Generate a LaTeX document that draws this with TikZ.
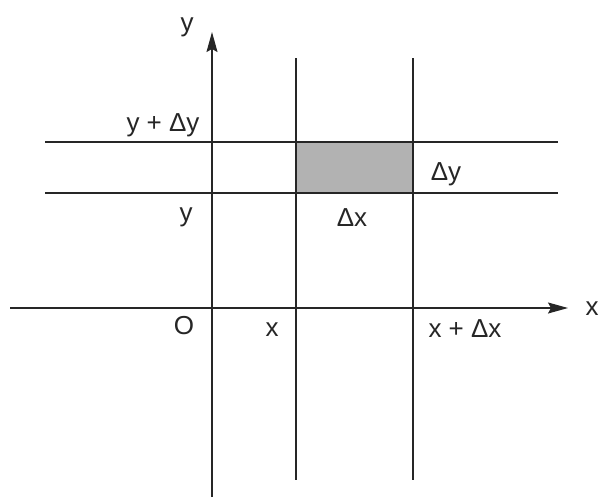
\documentclass[tikz,border=0pt]{standalone}
\usepackage{fontspec}
\setmainfont{Liberation Sans}
\usetikzlibrary{arrows.meta}
\begin{document}
\begin{tikzpicture}[x=1pt,y=-1pt,
  ln/.style={line width=1.5pt,black!85},
  lbl/.style={font=\fontsize{26}{28}\selectfont,inner sep=0pt,text=black!85},
  axis/.style={ln,-{Stealth[length=20pt,width=11pt,inset=3pt]}}]
\useasboundingbox (0,0) rectangle (600,501);
% shaded cell
\fill[gray!60] (296,142) rectangle (413,193);
% coordinates
\coordinate (xa0) at (10,308);
\coordinate (xa1) at (568,308);
\coordinate (ya0) at (212,497);
\coordinate (ya1) at (212,32);
\coordinate (v1t) at (296,58);
\coordinate (v1b) at (296,480);
\coordinate (v2t) at (413,58);
\coordinate (v2b) at (413,480);
\coordinate (h1l) at (45,142);
\coordinate (h1r) at (558,142);
\coordinate (h2l) at (45,193);
\coordinate (h2r) at (558,193);
% lines
\draw[ln] (v1t) -- (v1b);
\draw[ln] (v2t) -- (v2b);
\draw[ln] (h1l) -- (h1r);
\draw[ln] (h2l) -- (h2r);
\draw[axis] (xa0) -- (xa1);
\draw[axis] (ya0) -- (ya1);
% labels
\node[lbl] (ylab) at (187,27) {y};
\node[lbl] (xlab) at (592,309) {x};
\node[lbl] (ydy) at (163,125) {y + Δy};
\node[lbl] (dy) at (446,174) {Δy};
\node[lbl] (y) at (186,217) {y};
\node[lbl] (dx) at (352,218) {Δx};
\node[lbl] (O) at (184,326) {O};
\node[lbl] (x) at (272,330) {x};
\node[lbl] (xdx) at (465,329) {x + Δx};
\end{tikzpicture}
\end{document}
